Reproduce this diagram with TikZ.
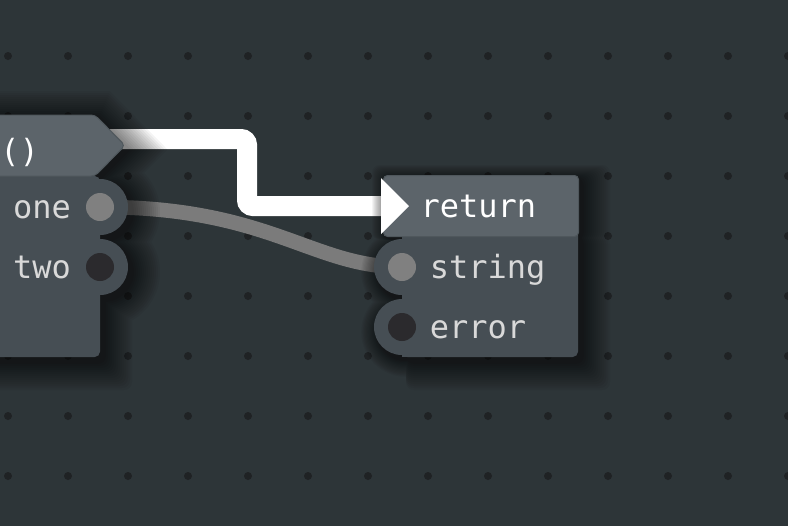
\documentclass[tikz,border=0pt]{standalone}
\usepackage{fontspec}
\setmonofont{DejaVu Sans Mono}
\usetikzlibrary{positioning}

\definecolor{canvas}{HTML}{2D3538}
\definecolor{griddot}{HTML}{1F2224}
\definecolor{hdrfill}{HTML}{5C646A}
\definecolor{hdredge}{HTML}{4F575C}
\definecolor{bodyfill}{HTML}{464E54}
\definecolor{portlive}{HTML}{808080}
\definecolor{portdead}{HTML}{2B2A2D}
\definecolor{labeltext}{HTML}{D9D9D9}

\pgfdeclarelayer{ground}
\pgfdeclarelayer{wires}
\pgfdeclarelayer{shade}
\pgfsetlayers{ground,wires,shade,main}

\begin{document}
\begin{tikzpicture}[x=0.75pt, y=-0.75pt,
    label/.style={font=\ttfamily\fontsize{24}{28}\selectfont, text=labeltext, inner sep=0pt, text height=17pt, text depth=0pt},
    title/.style={label, text=white},
    socket/.style={circle, fill=bodyfill, minimum size=42pt, inner sep=0pt},
    port/.style={circle, minimum size=21pt, inner sep=0pt},
    live/.style={port, fill=portlive},
    dead/.style={port, fill=portdead},
    hdr/.style={fill=hdrfill, draw=hdredge, line width=0.75pt},
    flow/.style={white, line width=15pt, rounded corners=4.5pt},
    datawire/.style={portlive!96!black, line width=11pt},
    haze/.style={transparency group, opacity=0.045},]

\useasboundingbox (0,0) rectangle (788,526);
\clip (0,0) rectangle (788,526);

% Canvas with dot grid
\begin{pgfonlayer}{ground}
  \fill[canvas] (0,0) rectangle (788,526);
  \foreach \i in {0,...,13} {
    \foreach \j in {0,...,7} {
      \fill[griddot] (8+60*\i, 56+60*\j) circle[radius=4];
    }
  }
\end{pgfonlayer}

% Function node (cut by the left edge)
\fill[bodyfill, rounded corners=4pt] (-20,176) rectangle (100,357);
\node[socket] (onesock) at (100,207) {};
\node[socket] (twosock) at (100,267) {};
\fill[bodyfill] (-20,176) rectangle (90,357);
\filldraw[hdr, rounded corners=3pt] (-20,115) -- (95,115) -- (125,145.5) -- (95,176) -- (-20,176) -- cycle;
\coordinate (fntip) at (125,145.5);
\node[title, anchor=west] (fnname) at (0,151) {()};
\node[live] (one) at (100,207) {};
\node[dead] (two) at (100,267) {};
\node[label, left=11pt of one] (onetxt) {one};
\node[label, left=11pt of two] (twotxt) {two};

% Return node
\fill[bodyfill, rounded corners=4pt] (402,230) rectangle (578,357);
\node[socket] (strsock) at (402,267) {};
\node[socket] (errsock) at (402,327) {};
\fill[bodyfill] (402,236) rectangle (560,357);
\node[hdr, rounded corners=3pt, minimum width=146.25pt, minimum height=45.75pt, anchor=north west] (rethead) at (383,175) {};
\node[title, right=28pt of rethead.west] (rettxt) {return};
\node[live] (string) at (402,267) {};
\node[dead] (error) at (402,327) {};
\node[label, right=10pt of string] (strtxt) {string};
\node[label, right=10pt of error] (errtxt) {error};

% Wires
\coordinate (fnout) at (110,139);
\coordinate (bend) at (247,0);
\begin{pgfonlayer}{wires}
  \draw[datawire] (one.center) .. controls +(170,0) and +(-90,0) .. (string.center);
  \draw[flow] (fnout) -| (bend |- rethead.west) -- (rethead.west);
\end{pgfonlayer}
\fill[white] (rethead.west) ++(-2,-28) -- ++(28,28) -- ++(-28,28) -- cycle;

% Soft shadows under both nodes
\begin{pgfonlayer}{shade}
  \foreach \s in {2,4,...,28} {
    \begin{scope}[haze]
      \fill[black] (-20,119-\s) -- (98+0.41*\s,119-\s) -- (128+1.41*\s,149.5) -- (98+0.41*\s,180+\s) -- (-20,180+\s) -- cycle;
      \fill[black, rounded corners=6pt] (-20,178) rectangle (104+\s,362+\s);
      \fill[black] (104,212) circle[radius=28+\s];
      \fill[black] (104,272) circle[radius=28+\s];
    \end{scope}
    \begin{scope}[haze]
      \fill[black, rounded corners=6pt] (386-0.5*\s,179-0.5*\s) rectangle (582+\s,240);
      \fill[black, rounded corners=6pt] (406,236) rectangle (582+\s,362+\s);
      \fill[black] (406,272) circle[radius=28+0.6*\s];
      \fill[black] (406,332) circle[radius=28+0.6*\s];
    \end{scope}
  }
\end{pgfonlayer}

\end{tikzpicture}
\end{document}
